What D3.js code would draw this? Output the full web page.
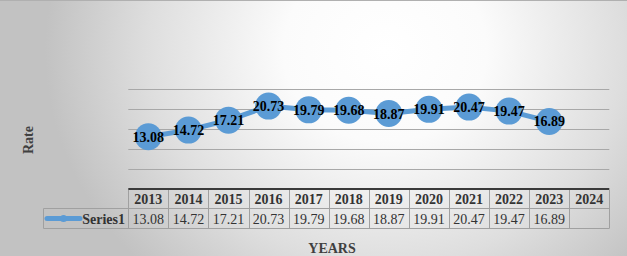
<!DOCTYPE html>
<html><head><meta charset="utf-8">
<script src="https://cdn.jsdelivr.net/npm/d3@7/dist/d3.min.js"></script>
<style>html,body{margin:0;padding:0;overflow:hidden;background:#fff}</style>
</head><body>
<script>
const years = ["2013","2014","2015","2016","2017","2018","2019","2020","2021","2022","2023","2024"];
const series1 = [13.08,14.72,17.21,20.73,19.79,19.68,18.87,19.91,20.47,19.47,16.89,null];
const seriesName = "Series1";
const yTicks = [0,5,10,15,20,25];
const xTitle = "YEARS";
const yTitle = "Rate";

const W = 627, H = 256;
const svg = d3.select("body").append("svg").attr("width", W).attr("height", H);
const defs = svg.append("defs");
const grad = defs.append("radialGradient").attr("id","bg")
  .attr("gradientUnits","userSpaceOnUse").attr("cx",385).attr("cy",50).attr("r",340)
  .attr("gradientTransform","translate(385,50) scale(1,0.9) translate(-385,-50)");
grad.append("stop").attr("offset","0").attr("stop-color","#ffffff");
grad.append("stop").attr("offset","0.3").attr("stop-color","#fbfbfb");
grad.append("stop").attr("offset","0.7").attr("stop-color","#dedede");
grad.append("stop").attr("offset","1").attr("stop-color","#c2c2c2");
svg.append("rect").attr("width",W).attr("height",H).attr("fill","url(#bg)");
svg.append("line").attr("x1",0).attr("x2",W).attr("y1",0.5).attr("y2",0.5).attr("stroke","#b0b0b0");

const x = d3.scaleBand().domain(years).range([128.3, 609.3]).padding(0);
const y = d3.scaleLinear().domain([0,25]).range([189,89]);

// gridlines
svg.append("g").selectAll("line").data(yTicks.filter(t=>t>0)).join("line")
  .attr("x1",128.3).attr("x2",609.3)
  .attr("y1",d=>Math.round(y(d))+0.5).attr("y2",d=>Math.round(y(d))+0.5)
  .attr("stroke","#a8a8a8").attr("stroke-width",1);

// axis line
svg.append("line").attr("x1",128.3).attr("x2",609.3).attr("y1",y(0)).attr("y2",y(0))
  .attr("stroke","#3a3a3a").attr("stroke-width",2);

// table
const rowTop = y(0), rowMid = 208.5, rowBot = 228.5;
const tg = svg.append("g").attr("stroke","#a0a0a0").attr("stroke-width",1).attr("fill","none");
tg.append("line").attr("x1",43.5).attr("x2",609.3).attr("y1",rowMid).attr("y2",rowMid);
tg.append("line").attr("x1",43.5).attr("x2",609.3).attr("y1",rowBot).attr("y2",rowBot);
tg.append("line").attr("x1",43.5).attr("x2",43.5).attr("y1",rowMid).attr("y2",rowBot);
const edges = years.map(d=>x(d)).concat([x(years[years.length-1])+x.bandwidth()]);
tg.selectAll("line.v").data(edges).join("line").attr("class","v")
  .attr("x1",d=>Math.round(d)+0.5).attr("x2",d=>Math.round(d)+0.5)
  .attr("y1",rowTop+1).attr("y2",rowBot);

svg.append("g").selectAll("text").data(years).join("text")
  .attr("x",d=>x(d)+x.bandwidth()/2).attr("y",204)
  .attr("text-anchor","middle").attr("font-family","Liberation Serif, Times New Roman, serif")
  .attr("font-weight","bold").attr("font-size",14).attr("fill","#333")
  .text(d=>d);
svg.append("g").selectAll("text").data(years).join("text")
  .attr("x",d=>x(d)+x.bandwidth()/2).attr("y",224)
  .attr("text-anchor","middle").attr("font-family","Liberation Serif, Times New Roman, serif")
  .attr("font-size",14).attr("fill","#333")
  .text((d,i)=>series1[i]==null?"":series1[i].toFixed(2));

// legend
svg.append("line").attr("x1",47).attr("x2",80).attr("y1",218.5).attr("y2",218.5)
  .attr("stroke","#5b9bd5").attr("stroke-width",5).attr("stroke-linecap","round");
svg.append("circle").attr("cx",63.5).attr("cy",218.5).attr("r",3.5).attr("fill","#5b9bd5");
svg.append("text").attr("x",125).attr("y",224).attr("text-anchor","end")
  .attr("font-family","Liberation Serif, Times New Roman, serif")
  .attr("font-weight","bold").attr("font-size",14).attr("fill","#333").text(seriesName);

// line
const pts = years.map((d,i)=>({year:d,v:series1[i]})).filter(p=>p.v!=null);
const line = d3.line().x(p=>x(p.year)+x.bandwidth()/2).y(p=>y(p.v));
svg.append("path").datum(pts).attr("d",line).attr("fill","none")
  .attr("stroke","#5b9bd5").attr("stroke-width",5).attr("stroke-linejoin","round");
svg.append("g").selectAll("circle").data(pts).join("circle")
  .attr("cx",p=>x(p.year)+x.bandwidth()/2).attr("cy",p=>y(p.v)).attr("r",13.5)
  .attr("fill","#5b9bd5");
svg.append("g").selectAll("text").data(pts).join("text")
  .attr("x",p=>x(p.year)+x.bandwidth()/2).attr("y",p=>y(p.v)+5)
  .attr("text-anchor","middle").attr("font-family","Liberation Serif, Times New Roman, serif")
  .attr("font-weight","bold").attr("font-size",14).attr("fill","#000")
  .text(p=>p.v.toFixed(2));

// titles
svg.append("text").attr("transform","translate(33,140) rotate(-90)")
  .attr("text-anchor","middle").attr("font-family","Liberation Serif, Times New Roman, serif")
  .attr("font-weight","bold").attr("font-size",14).attr("fill","#404040").text(yTitle);
svg.append("text").attr("x",332).attr("y",253).attr("text-anchor","middle")
  .attr("font-family","Liberation Serif, Times New Roman, serif")
  .attr("font-weight","bold").attr("font-size",14).attr("fill","#404040").text(xTitle);
</script>
</body></html>
